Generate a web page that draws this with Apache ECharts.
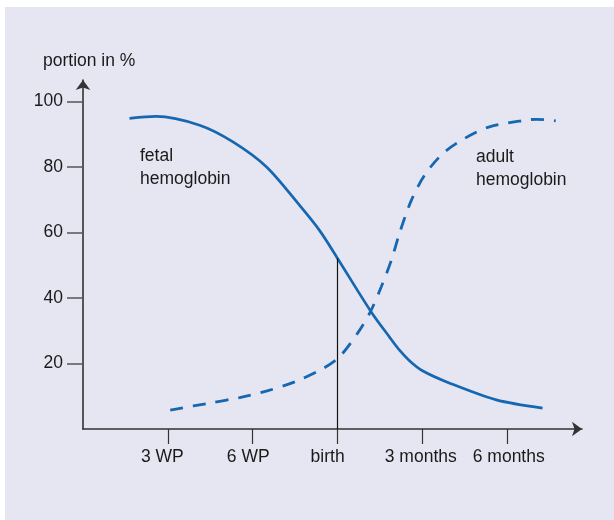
<!DOCTYPE html>
<html>
<head>
<meta charset="utf-8">
<script src="https://cdn.jsdelivr.net/npm/echarts@6/dist/echarts.min.js"></script>
<style>
html,body{margin:0;padding:0;background:#ffffff;}
#c{width:614px;height:520px;}
</style>
</head>
<body>
<div id="c"></div>
<script>
// x positions: 1 = 3 WP, 2 = 6 WP, 3 = birth, 4 = 3 months, 5 = 6 months
var xTickValues = [1, 2, 3, 4, 5];
var xTickLabels = ['3 WP', '6 WP', 'birth', '3 months', '6 months'];
var yTickValues = [20, 40, 60, 80, 100];

var fetalHb = [
  [0.548, 94.9], [0.863, 95.5], [1.374, 92.8], [1.767, 87.7], [2.160, 80.1],
  [2.553, 68.3], [2.789, 60.6], [3.0, 52.1], [3.39, 36.0], [3.614, 28.0],
  [3.732, 24.0], [3.85, 20.8], [4.0, 17.8], [4.322, 14.0], [4.87, 8.9], [5.415, 6.4]
];
var adultHb = [
  [1.028, 5.8], [1.51, 8.0], [1.846, 9.6], [2.179, 11.7], [2.494, 14.4],
  [2.809, 18.2], [3.024, 22.1], [3.26, 30.2], [3.39, 36.0], [3.516, 43.5],
  [3.634, 51.6], [3.732, 60.0], [3.87, 69.9], [4.027, 77.6], [4.243, 84.2],
  [4.5, 88.8], [4.79, 92.3], [5.23, 94.4], [5.34, 94.6], [5.57, 94.1]
];
var birthValue = 3;
var birthLineTop = 52.1;

var FONT = 'Liberation Sans, Arial, Helvetica, sans-serif';
var FS = 17.5;
var TXT = '#1a1a1a';
var BLUE = '#1667b1';
var offsets = {'3 WP': -5.5, '6 WP': -4.5, 'birth': -10, '3 months': -1.7, '6 months': 1.4};

function labelKey(t) {
  var o = offsets[t] || 0;
  return (o < 0 ? 'l' : 'r') + Math.round(Math.abs(o) * 10);
}
var richStyles = {};
xTickLabels.forEach(function (t) {
  var o = offsets[t] || 0;
  richStyles[labelKey(t)] = {
    fontSize: FS, fontFamily: FONT, color: TXT,
    padding: o < 0 ? [0, Math.abs(o) * 2, 0, 0] : [0, 0, 0, Math.abs(o) * 2]
  };
});

var chart = echarts.init(document.getElementById('c'), null, {renderer: 'canvas'});
chart.setOption({
  animation: false,
  backgroundColor: '#ffffff',
  graphic: [
    {type: 'rect', z: -10, silent: true, shape: {x: 5, y: 7, width: 609, height: 513}, style: {fill: '#e6e6f2'}},
    {type: 'text', left: 43, top: 52, style: {text: 'portion in %', font: FS + 'px ' + FONT, fill: TXT}},
    {type: 'text', left: 140, top: 145, style: {text: 'fetal\nhemoglobin', font: FS + 'px ' + FONT, fill: TXT, lineHeight: 23}},
    {type: 'text', left: 476, top: 146, style: {text: 'adult\nhemoglobin', font: FS + 'px ' + FONT, fill: TXT, lineHeight: 23}}
  ],
  grid: {left: 83, top: 80, width: 499, height: 349, containLabel: false},
  xAxis: {
    type: 'value', min: 0, max: 5.88,
    splitLine: {show: false},
    axisLine: {show: true, lineStyle: {color: '#333333', width: 1.6}, symbol: ['none', 'arrow'], symbolSize: [11, 10]},
    axisTick: {show: true, customValues: xTickValues, length: 15, lineStyle: {color: '#333333', width: 1.2}},
    axisLabel: {
      customValues: xTickValues, margin: 19,
      formatter: function (v) {
        var t = xTickLabels[xTickValues.indexOf(v)];
        return '{' + labelKey(t) + '|' + t + '}';
      },
      rich: richStyles,
      fontSize: FS, fontFamily: FONT, color: TXT
    }
  },
  yAxis: {
    type: 'value', min: 0, max: 106.6,
    splitLine: {show: false},
    axisLine: {show: true, lineStyle: {color: '#333333', width: 1.6}, symbol: ['none', 'arrow'], symbolSize: [11, 10]},
    axisTick: {show: true, customValues: yTickValues, length: 16, lineStyle: {color: '#555555', width: 1.5}},
    axisLabel: {customValues: yTickValues, margin: 20, fontSize: FS, fontFamily: FONT, color: TXT}
  },
  series: [
    {
      name: 'fetal hemoglobin', type: 'line', data: fetalHb, showSymbol: false, symbol: 'none',
      smooth: 0.3,
      lineStyle: {color: BLUE, width: 2.7},
      markLine: {
        silent: true, symbol: ['none', 'none'], label: {show: false},
        lineStyle: {color: '#111111', width: 1.2, type: 'solid'},
        data: [[{coord: [birthValue, 0]}, {coord: [birthValue, birthLineTop]}]]
      },
      z: 3
    },
    {
      name: 'adult hemoglobin', type: 'line', data: adultHb, showSymbol: false, symbol: 'none',
      smooth: 0.3,
      lineStyle: {color: BLUE, width: 2.8, type: [13, 10]},
      z: 3
    }
  ]
});
</script>
</body>
</html>
